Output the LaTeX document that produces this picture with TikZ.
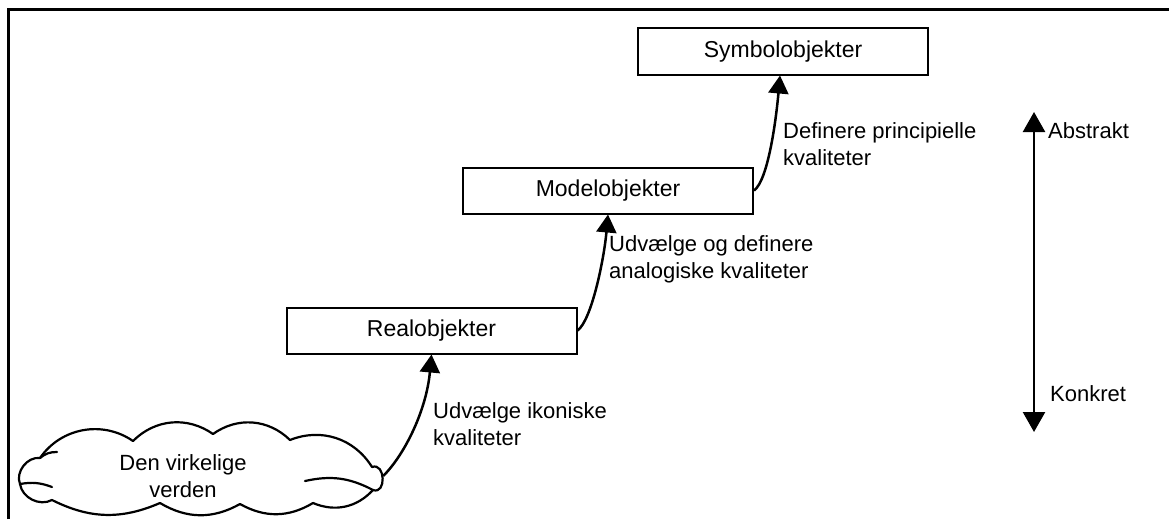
\documentclass[tikz,border=0pt]{standalone}
\usepackage{fontspec}
\setmainfont{Liberation Sans}
\usetikzlibrary{arrows.meta}
\begin{document}
\begin{tikzpicture}[x=1pt,y=-1pt,
 obj/.style={draw,line width=2pt,minimum width=290pt,minimum height=46pt,inner sep=0pt,font=\fontsize{23}{27}\selectfont},
 lbl/.style={align=left,inner sep=0pt,font=\fontsize{22}{27}\selectfont},
 conn/.style={line width=2.5pt,-{Triangle[length=18pt,width=20pt]}},
 axis/.style={line width=2.5pt,{Triangle[length=20pt,width=22pt]}-{Triangle[length=20pt,width=22pt]}},
 world/.style={minimum width=400pt,minimum height=83pt,inner sep=0pt,align=center,font=\fontsize{22}{27}\selectfont},
 cloudline/.style={line width=2.2pt,line join=round,line cap=round},
]
\useasboundingbox (0,0) rectangle (1169,519);
\coordinate (fbl) at (8,519);
\coordinate (ftl) at (8,10);
\coordinate (ftr) at (1169,10);
\draw[line width=3pt] (fbl) -- (ftl) -- (ftr);

\node[obj] (sym) at (783,51.5) {Symbolobjekter};
\node[obj] (mod) at (608,190.5) {Modelobjekter};
\node[obj] (real) at (431.5,330.5) {Realobjekter};

% cloud outline
\draw[cloudline]
 (40,458) to[bend left=45] (133,441)
 to[bend left=40] (213,434)
 to[bend left=40] (290,440)
 to[bend left=40] (372,467)
 to[out=20,in=-20,looseness=1.6] (373,490)
 to[bend left=35] (313,503)
 to[bend left=30] (240,504)
 to[bend left=30] (160,503)
 to[bend left=25] (52,500)
 to[bend left=55] (20,484)
 to[bend left=60] cycle;
\draw[cloudline] (373,490) to[bend right=20] (305,481);
\draw[cloudline] (20,484) to[bend left=15] (52,487);
\draw[cloudline] (40,458) to[bend left=20] (57,452);
\node[world] (world) at (183,476) {Den virkelige\\verden};

\draw[conn] (real.east) .. controls +(14,-10) and +(-4,45) .. (mod.south);
\draw[conn] (mod.east) .. controls +(14,-10) and +(-4,45) .. ([xshift=-3pt]sym.south);
\draw[conn] (world.east) .. controls +(22,-22) and +(-5,55) .. (real.south);

\coordinate (ab) at (1034,112);
\coordinate (ko) at (1034,432);
\draw[axis] (ko) -- (ab);

\node[lbl,anchor=base west] (l1) at (783,165) {Definere principielle\\kvaliteter};
\node[lbl,anchor=base west] (l2) at (609,278) {Udvælge og definere\\analogiske kvaliteter};
\node[lbl,anchor=base west] (l3) at (433,445) {Udvælge ikoniske\\kvaliteter};
\node[lbl,anchor=base west] (abt) at (1048,138) {Abstrakt};
\node[lbl,anchor=base west] (kot) at (1050,401) {Konkret};
\end{tikzpicture}
\end{document}
